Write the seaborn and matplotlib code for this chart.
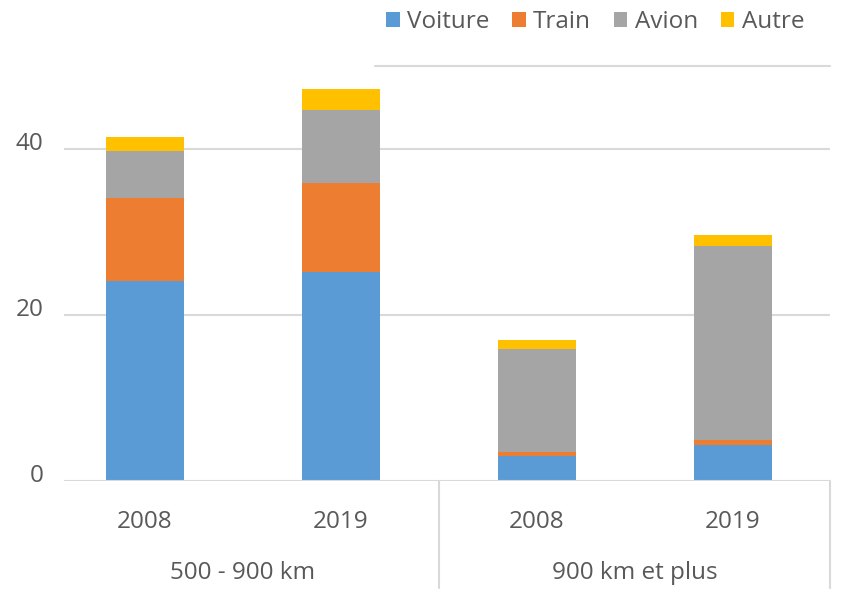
import numpy as np
import pandas as pd
import matplotlib
matplotlib.use("Agg")
import matplotlib.pyplot as plt
import matplotlib.transforms as mtransforms
from matplotlib.patches import Patch
import seaborn as sns

# ---- data ----
groups = ["500 - 900 km", "900 km et plus"]
years = ["2008", "2019", "2008", "2019"]
bar_ids = ["g1_2008", "g1_2019", "g2_2008", "g2_2019"]
series = ["Voiture", "Train", "Avion", "Autre"]
voiture = [24.1, 25.2, 3.05, 4.3]
train = [9.95, 10.65, 0.4, 0.6]
avion = [5.7, 8.9, 12.45, 23.45]
autre = [1.65, 2.5, 1.1, 1.3]
colors = ["#5B9BD5", "#ED7D31", "#A5A5A5", "#FFC000"]
yticks = [0, 20, 40]

sns.set_theme(style="white")
plt.rcParams["font.family"] = ["Open Sans", "DejaVu Sans"]
txt = "#595959"
grid = "#D9D9D9"
fs = 17.5

fig = plt.figure(figsize=(8.5, 5.95), dpi=100)
ax = fig.add_axes([64 / 850, (595 - 481) / 595, (830 - 64) / 850, (481 - 66) / 595])

vals = np.array([voiture, train, avion, autre])
cum = np.cumsum(vals, axis=0)
# draw from the top layer down so lower layers sit on top
for k in range(len(series) - 1, -1, -1):
    df = pd.DataFrame({"bar": bar_ids, "value": cum[k]})
    sns.barplot(data=df, x="bar", y="value", order=bar_ids, color=colors[k],
                width=0.4, saturation=1, ax=ax, linewidth=0, zorder=3)

ax.set_xlim(-0.413, 3.495)
ax.set_ylim(0, 50)
ax.set_yticks(yticks)
ax.set_yticklabels([str(v) for v in yticks])
ax.set_xticks(range(len(years)))
ax.set_xticklabels(years)
ax.set_xlabel("")
ax.set_ylabel("")
for s in ax.spines.values():
    s.set_visible(False)
ax.grid(False)
for v in yticks[1:]:
    ax.axhline(v, color=grid, lw=1.5, zorder=1)
ax.axhline(0, color=grid, lw=1.5, zorder=4)
ax.axhline(50, xmin=(375 - 64) / 766, xmax=1.0, color=grid, lw=1.5, zorder=1, clip_on=False)

ax.tick_params(axis="both", length=0, labelsize=fs, labelcolor=txt)
ax.tick_params(axis="y", pad=15)
ax.tick_params(axis="x", pad=21)
off = mtransforms.ScaledTranslation(0, 8 / 100, fig.dpi_scale_trans)
for lab in ax.get_yticklabels():
    lab.set_transform(lab.get_transform() + off)

# group labels and separators
trans = mtransforms.blended_transform_factory(ax.transData, fig.transFigure)
ax.text(0.5, (595 - 573) / 595, groups[0], transform=trans, ha="center", va="center",
        fontsize=fs, color=txt)
ax.text(2.5, (595 - 573) / 595, groups[1], transform=trans, ha="center", va="center",
        fontsize=fs, color=txt)
for xv in [1.5, 3.495]:
    ax.plot([xv, xv], [(595 - 481) / 595, (595 - 588) / 595],
            transform=trans, color=grid, lw=1.5, clip_on=False)

handles = [Patch(facecolor=c, edgecolor="none") for c in colors]
fig.legend(handles, series, loc="center right", bbox_to_anchor=(814 / 850, (595 - 22) / 595),
           ncol=4, frameon=False, fontsize=17.5, labelcolor=txt, handlelength=0.55,
           handleheight=0.6, handletextpad=0.3, columnspacing=0.95, borderaxespad=0)

fig.savefig("out.png", dpi=100)
